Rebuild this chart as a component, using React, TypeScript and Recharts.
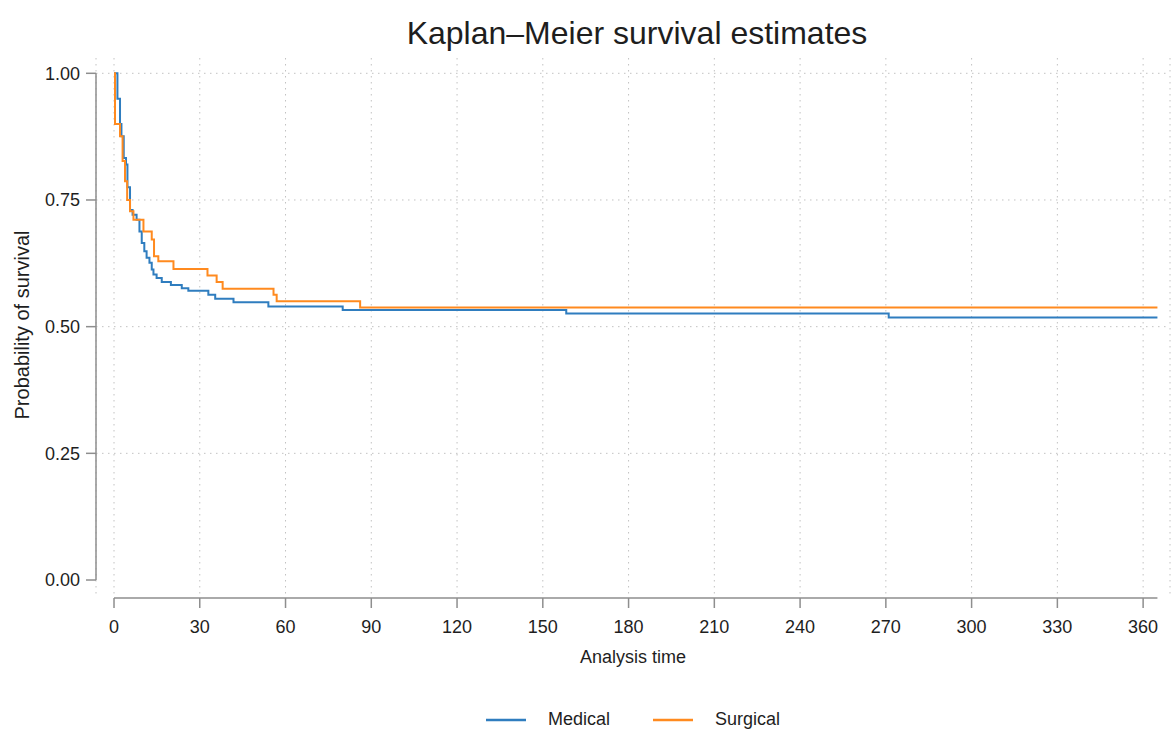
import React from 'react';
import { LineChart, Line, XAxis, YAxis, CartesianGrid, ReferenceLine, Legend, Label } from 'recharts';

// Kaplan–Meier step estimates
const medicalTime = [0, 1.2, 2.1, 2.6, 3.4, 4.2, 4.7, 5.6, 6.5, 7.9, 8.9, 9.7, 10.6, 11.4, 12.4, 13.2, 13.8, 14.9, 16.7, 19.9, 23.7, 26, 33, 35.4, 41.8, 54, 80, 158.2, 271, 365];
const medicalSurv = [1.0, 0.95, 0.9, 0.876, 0.833, 0.82, 0.775, 0.73, 0.721, 0.711, 0.688, 0.665, 0.649, 0.636, 0.626, 0.613, 0.603, 0.596, 0.588, 0.582, 0.576, 0.571, 0.563, 0.555, 0.548, 0.54, 0.533, 0.526, 0.518, 0.518];

const surgicalTime = [0, 0.35, 2.1, 3.0, 3.85, 4.6, 5.6, 6.8, 10.3, 13.2, 14.0, 15.5, 20.8, 32.7, 35.9, 38, 55.8, 56.9, 86.1, 365];
const surgicalSurv = [1.0, 0.9, 0.876, 0.827, 0.787, 0.75, 0.728, 0.711, 0.688, 0.672, 0.639, 0.629, 0.614, 0.601, 0.588, 0.575, 0.563, 0.55, 0.538, 0.538];

const xTicks = [0, 30, 60, 90, 120, 150, 180, 210, 240, 270, 300, 330, 360];
const yTicks = [0, 0.25, 0.5, 0.75, 1];
const yGridValues = [0.25, 0.5, 0.75, 1];

const seriesNames = ['Medical', 'Surgical'];
const seriesColors = ['#2f7dbf', '#ff8a1f'];

const X_MIN = -6.3;
const X_MAX = 369.4;
const X_END = 365;
const Y_MIN = -0.0355;
const Y_MAX = 1.0302;

const medicalData = medicalTime.map((t, i) => ({ t, s: medicalSurv[i] }));
const surgicalData = surgicalTime.map((t, i) => ({ t, s: surgicalSurv[i] }));

const FONT = '"Liberation Sans", Arial, Helvetica, sans-serif';
const TEXT = '#1e1e1e';
const AXIS = '#8e8e8e';

const renderLegend = (props: any) => {
  const payload = props.payload || [];
  return (
    <div style={{ display: 'flex', justifyContent: 'center', alignItems: 'center', fontFamily: FONT, fontSize: 18, color: TEXT }}>
      {payload.map((e: any, i: number) => (
        <div key={e.value} style={{ display: 'flex', alignItems: 'center', marginLeft: i ? 43 : 0 }}>
          <svg width={40} height={4} style={{ display: 'block' }}>
            <line x1={0} y1={2} x2={40} y2={2} stroke={e.color} strokeWidth={2.5} />
          </svg>
          <span style={{ marginLeft: 22 }}>{e.value}</span>
        </div>
      ))}
    </div>
  );
};

export default function App() {
  return (
    <div style={{ position: 'absolute', left: 0, top: 0, width: 1173, height: 738, background: '#fff' }}>
      <div style={{ position: 'absolute', left: 100, top: 17, width: 1074, textAlign: 'center', fontFamily: FONT, fontSize: 32, lineHeight: 1, color: TEXT }}>
        Kaplan–Meier survival estimates
      </div>
      <LineChart width={1173} height={738} margin={{ top: 58, right: 3, bottom: 80, left: 0 }}>
        <CartesianGrid stroke="#c2c2c2" strokeDasharray="1.5 4.5" horizontalValues={yGridValues} />
        <XAxis
          type="number"
          dataKey="t"
          domain={[X_MIN, X_MAX]}
          allowDataOverflow
          ticks={xTicks}
          interval={0}
          axisLine={false}
          tickLine={{ stroke: AXIS, strokeWidth: 1.5 }}
          tickSize={10}
          tickMargin={12}
          tick={{ fill: TEXT, fontSize: 18, fontFamily: FONT }}
          height={60}
        >
          <Label
            content={(p: any) => {
              const vb = p.viewBox || {};
              return (
                <text x={vb.x + vb.width / 2} y={663} textAnchor="middle" fill={TEXT} fontSize={18} fontFamily={FONT}>
                  Analysis time
                </text>
              );
            }}
          />
        </XAxis>
        <YAxis
          type="number"
          domain={[Y_MIN, Y_MAX]}
          allowDataOverflow
          ticks={yTicks}
          interval={0}
          tickFormatter={(v: number) => v.toFixed(2)}
          axisLine={false}
          tickLine={{ stroke: AXIS, strokeWidth: 1.5 }}
          tickSize={10}
          tickMargin={6}
          tick={{ fill: TEXT, fontSize: 18, fontFamily: FONT }}
          width={96}
        >
          <Label
            content={(p: any) => {
              const vb = p.viewBox || {};
              const cx = 29;
              const cy = vb.y + vb.height / 2 - 3;
              return (
                <text x={cx} y={cy} transform={`rotate(-90, ${cx}, ${cy})`} textAnchor="middle" fill={TEXT} fontSize={20} fontFamily={FONT}>
                  Probability of survival
                </text>
              );
            }}
          />
        </YAxis>
        <ReferenceLine segment={[{ x: 0, y: Y_MIN }, { x: X_END, y: Y_MIN }]} stroke={AXIS} strokeWidth={1.5} ifOverflow="visible" />
        <ReferenceLine segment={[{ x: X_MIN, y: 0 }, { x: X_MIN, y: 1 }]} stroke={AXIS} strokeWidth={1.5} ifOverflow="visible" />
        <Line data={medicalData} dataKey="s" name={seriesNames[0]} type="stepAfter" stroke={seriesColors[0]} strokeWidth={2} dot={false} activeDot={false} isAnimationActive={false} />
        <Line data={surgicalData} dataKey="s" name={seriesNames[1]} type="stepAfter" stroke={seriesColors[1]} strokeWidth={2} dot={false} activeDot={false} isAnimationActive={false} />
        <Legend
          layout="horizontal"
          verticalAlign="middle"
          align="center"
          content={renderLegend}
          wrapperStyle={{ top: 709, left: 96, width: 1074 }}
        />
      </LineChart>
    </div>
  );
}
